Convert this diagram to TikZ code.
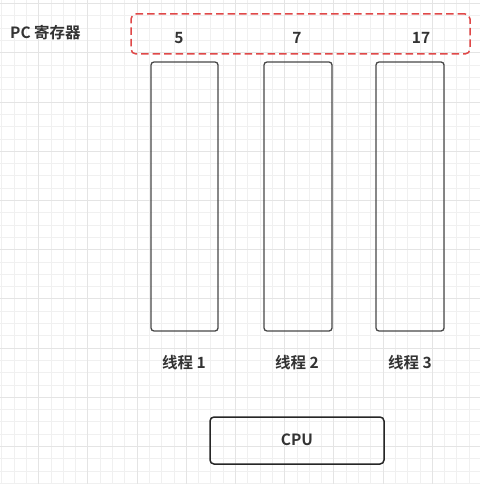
\documentclass[tikz,border=0pt]{standalone}
\usepackage{fontspec}
\newfontfamily\cjk{Noto Sans CJK SC}[BoldFont=* Bold]
\definecolor{gridminor}{HTML}{F0F0F0}
\definecolor{gridmajor}{HTML}{E4E4E4}
\definecolor{txt}{HTML}{333333}
\definecolor{redd}{HTML}{E04848}
\begin{document}
\begin{tikzpicture}[x=1pt,y=-1pt,
  lbl/.style={font=\cjk\bfseries\fontsize{15.5}{18}\selectfont, text=txt, inner sep=0pt},
  thread/.style={draw=txt!90!white, line width=1.3pt, rounded corners=3pt, inner sep=0pt},
  pcbox/.style={draw=redd, line width=1.5pt, dash pattern=on 7.5pt off 4pt, rounded corners=5pt, inner sep=0pt},
  cpubox/.style={draw=black!85, line width=1.5pt, rounded corners=4pt, inner sep=0pt}]
\useasboundingbox (0,0) rectangle (480,484);
\fill[white] (0,0) rectangle (480,484);
% grid
\foreach \k in {0,...,39} {
  \pgfmathsetmacro{\gx}{1.7+12.3*\k}
  \draw[gridminor, line width=0.8pt] (\gx,0) -- (\gx,484);
}
\foreach \k in {0,...,39} {
  \pgfmathsetmacro{\gy}{3.6+12.3*\k}
  \draw[gridminor, line width=0.8pt] (0,\gy) -- (480,\gy);
}
\foreach \k in {0,...,9} {
  \pgfmathsetmacro{\gx}{-10.6+49.2*\k}
  \draw[gridmajor, line width=0.8pt] (\gx,0) -- (\gx,484);
  \pgfmathsetmacro{\gy}{3.6+49.2*\k}
  \draw[gridmajor, line width=0.8pt] (0,\gy) -- (480,\gy);
}
% PC register box
\node[pcbox, minimum width=339pt, minimum height=40pt] (pc) at (300.5,34) {};
\node[lbl, anchor=west] (pclbl) at (10,33) {PC 寄存器};
\node[lbl] (n1) at (179,38) {5};
\node[lbl] (n2) at (297,38) {7};
\node[lbl] (n3) at (421,38) {17};
% threads
\node[thread, minimum width=67pt, minimum height=269pt] (t1) at (184.5,196.5) {};
\node[thread, minimum width=68pt, minimum height=269pt] (t2) at (298,196.5) {};
\node[thread, minimum width=68pt, minimum height=269pt] (t3) at (410,196.5) {};
\node[lbl] (l1) at (184,363) {线程 1};
\node[lbl] (l2) at (297,363) {线程 2};
\node[lbl] (l3) at (410,363) {线程 3};
% CPU
\node[cpubox, minimum width=174pt, minimum height=47pt] (cpu) at (297,440.5) {};
\node[lbl] (cpulbl) at (297,440) {CPU};
\end{tikzpicture}
\end{document}
